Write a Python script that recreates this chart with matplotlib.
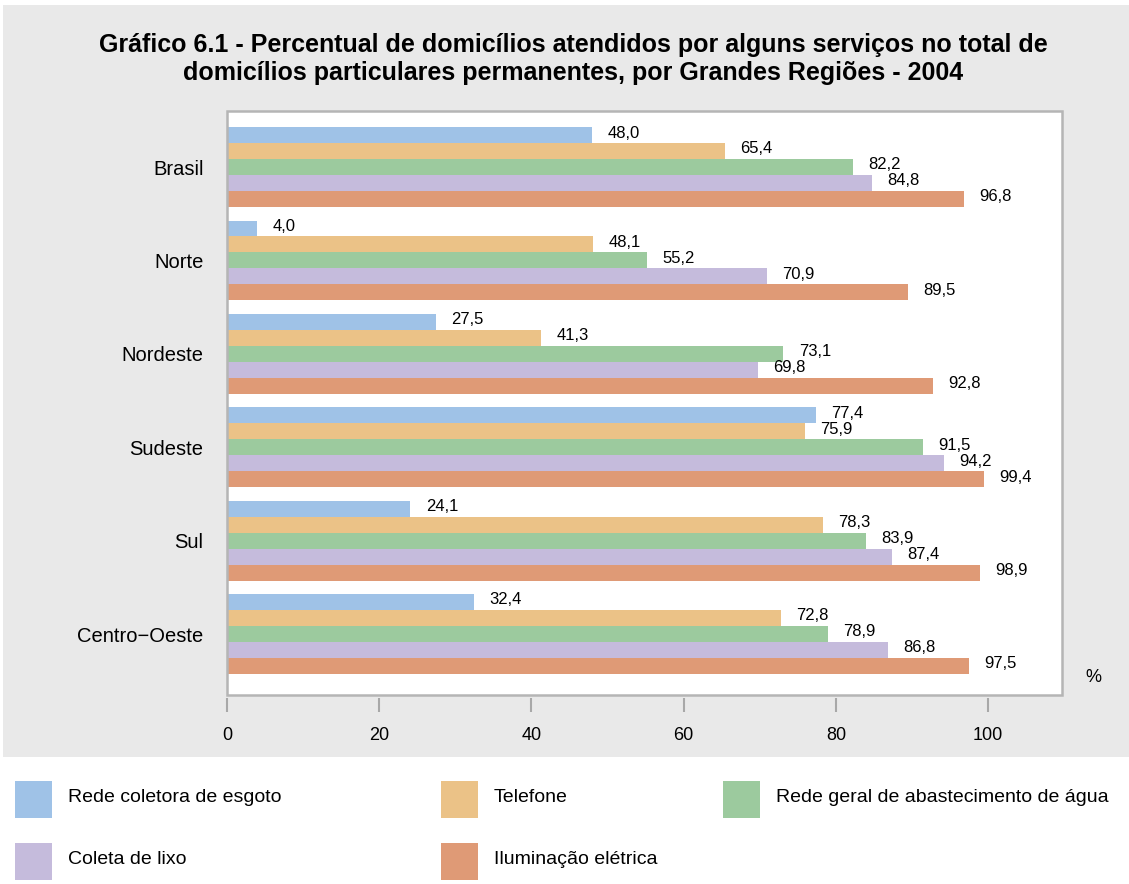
import numpy as np
import matplotlib.pyplot as plt
from matplotlib.patches import Rectangle

plt.rcParams['font.family'] = ['Liberation Sans', 'DejaVu Sans']

# dados (IBGE, 2004)
regioes = ['Brasil', 'Norte', 'Nordeste', 'Sudeste', 'Sul', 'Centro−Oeste']
servicos = ['Rede coletora de esgoto', 'Telefone',
            'Rede geral de abastecimento de água', 'Coleta de lixo',
            'Iluminação elétrica']
esgoto = [48.0, 4.0, 27.5, 77.4, 24.1, 32.4]
telefone = [65.4, 48.1, 41.3, 75.9, 78.3, 72.8]
agua = [82.2, 55.2, 73.1, 91.5, 83.9, 78.9]
lixo = [84.8, 70.9, 69.8, 94.2, 87.4, 86.8]
iluminacao = [96.8, 89.5, 92.8, 99.4, 98.9, 97.5]
xticks = [0, 20, 40, 60, 80, 100]

cores = ['#9fc2e7', '#ebc287', '#9cca9e', '#c5bbdc', '#df9a76']
series = [esgoto, telefone, agua, lixo, iluminacao]

W, H = 1129, 884
fig = plt.figure(figsize=(W / 100, H / 100), dpi=100)
fig.patch.set_facecolor('white')

# fundo cinza
fig.add_artist(Rectangle((3 / W, 1 - 757 / H), 1 - 3 / W, (757 - 5) / H,
                         transform=fig.transFigure, facecolor='#e9e9e9',
                         edgecolor='none', zorder=0))

fig.text(0.5 * (92 + 1055) / W, 1 - 45 / H,
         'Gráfico 6.1 - Percentual de domicílios atendidos por alguns serviços no total de',
         ha='center', va='center', fontsize=18, fontweight='bold')
fig.text(0.5 * (92 + 1055) / W, 1 - 73 / H,
         'domicílios particulares permanentes, por Grandes Regiões - 2004',
         ha='center', va='center', fontsize=18, fontweight='bold')

ax = fig.add_axes([227 / W, 1 - 695 / H, (1062 - 227) / W, (695 - 111) / H])
ax.set_facecolor('white')
for s in ax.spines.values():
    s.set_visible(False)
ax.spines['bottom'].set_position(('outward', 2))

y = np.arange(len(regioes))
h = 0.171
for i, (vals, cor) in enumerate(zip(series, cores)):
    pos = y + (i - 2) * h
    ax.barh(pos, vals, height=h, color=cor, edgecolor='none')
    for p, v in zip(pos, vals):
        ax.annotate(f'{v:.1f}'.replace('.', ','), xy=(v, p), xytext=(11, 1.5),
                    textcoords='offset points', ha='left', va='center',
                    fontsize=12)

ax.set_xlim(0, 109.7)
ax.set_ylim(5.653, -0.6)
ax.set_yticks(y)
ax.set_yticklabels(regioes)
ax.set_xticks(xticks)
ax.set_xticklabels([str(t) for t in xticks])
ax.tick_params(axis='y', length=0, pad=17, labelsize=14.5)
ax.tick_params(axis='x', length=10, width=1.5, color='#a8a8a8', pad=11,
               labelsize=13)
ax.add_patch(Rectangle((0, 0), 1, 1, transform=ax.transAxes, fill=False,
                       edgecolor='#b5b5b5', linewidth=1.8, clip_on=False))
ax.text(1093 / W, 1 - 678 / H, '%', transform=fig.transFigure,
        ha='center', va='center', fontsize=13)

# legenda
leg_x = [15, 441, 723, 15, 441]
leg_y = [800, 800, 800, 862, 862]
for nome, cor, lx, ly in zip(servicos, cores, leg_x, leg_y):
    fig.add_artist(Rectangle((lx / W, 1 - (ly + 18) / H), 37 / W, 37 / H,
                             transform=fig.transFigure, facecolor=cor,
                             edgecolor='none'))
    fig.text((lx + 53) / W, 1 - (ly - 2) / H, nome, ha='left', va='center',
             fontsize=14)

fig.savefig('out.png', dpi=100)
